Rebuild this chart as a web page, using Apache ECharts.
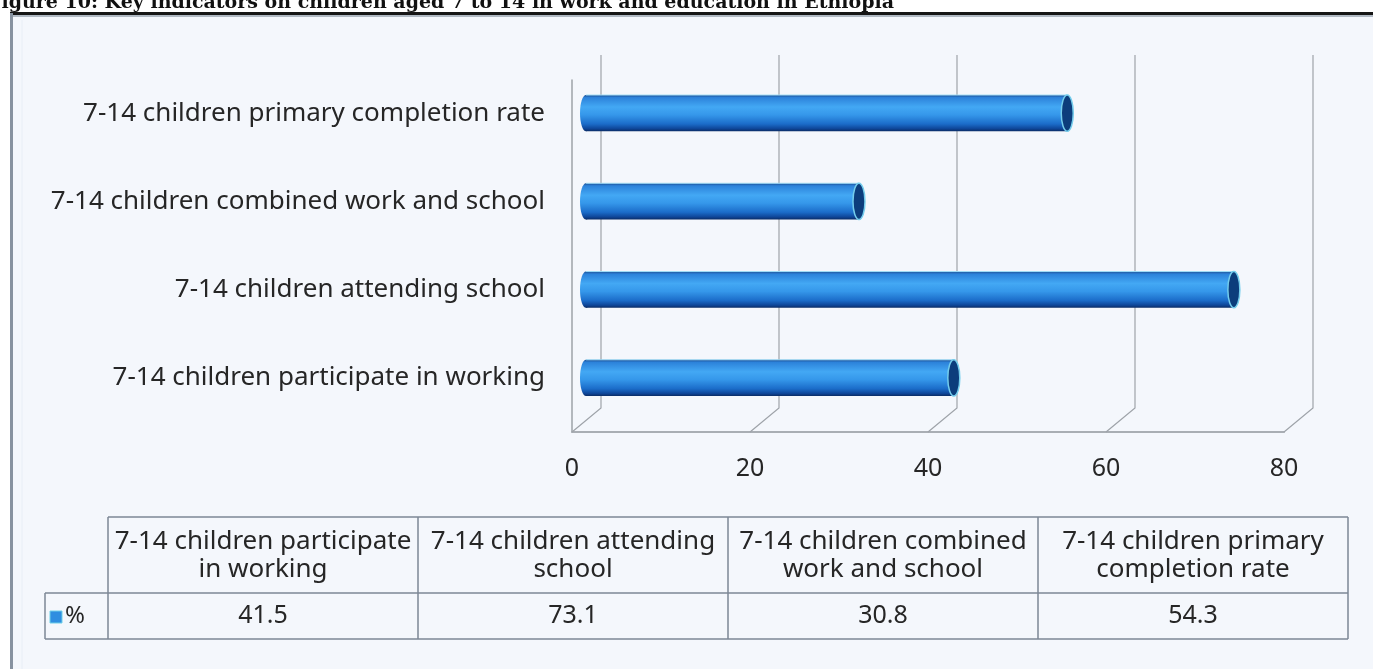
<!DOCTYPE html>
<html>
<head>
<meta charset="utf-8">
<script src="https://cdn.jsdelivr.net/npm/echarts@6/dist/echarts.min.js"></script>
<style>
html,body{margin:0;padding:0;background:#fff;}
#chart{width:1373px;height:669px;}
</style>
</head>
<body>
<div id="chart"></div>
<script>
// ---- data ----
const titleText = 'Figure 10: Key indicators on children aged 7 to 14 in work and education in Ethiopia';
const categories = [
  '7-14 children participate in working',
  '7-14 children attending school',
  '7-14 children combined work and school',
  '7-14 children primary completion rate'
];
const tableHeaders = [
  '7-14 children participate\nin working',
  '7-14 children attending\nschool',
  '7-14 children combined\nwork and school',
  '7-14 children primary\ncompletion rate'
];
const seriesName = '%';
const values = [41.5, 73.1, 30.8, 54.3];
const xTicks = [0, 20, 40, 60, 80];

// ---- styles ----
const FONT = '"Noto Sans", "Open Sans", sans-serif';
const TXT = '#262626';
const GRIDC = '#9ea3a9';

const barGrad = {
  type: 'linear', x: 0, y: 0, x2: 0, y2: 1,
  colorStops: [
    {offset: 0, color: '#1c4f94'},
    {offset: 0.07, color: '#2c82da'},
    {offset: 0.33, color: '#43a8f4'},
    {offset: 0.55, color: '#3597ea'},
    {offset: 0.8, color: '#1b6cc9'},
    {offset: 0.93, color: '#0e4699'},
    {offset: 1, color: '#0a2c66'}
  ]
};

const chart = echarts.init(document.getElementById('chart'));

// table graphic built from arrays
const tblLeft = 108, colW = 310, tblTop = 517, hdrH = 76, rowH = 46, legLeft = 45;
const tableEls = [];
const lineStyle = {stroke: '#7c8796', lineWidth: 1.5};
const tblRight = tblLeft + colW * tableHeaders.length;
tableEls.push({type: 'line', shape: {x1: tblLeft, y1: tblTop, x2: tblRight, y2: tblTop}, style: lineStyle});
tableEls.push({type: 'line', shape: {x1: legLeft, y1: tblTop + hdrH, x2: tblRight, y2: tblTop + hdrH}, style: lineStyle});
tableEls.push({type: 'line', shape: {x1: legLeft, y1: tblTop + hdrH + rowH, x2: tblRight, y2: tblTop + hdrH + rowH}, style: lineStyle});
tableEls.push({type: 'line', shape: {x1: legLeft, y1: tblTop + hdrH, x2: legLeft, y2: tblTop + hdrH + rowH}, style: lineStyle});
for (let i = 0; i <= tableHeaders.length; i++) {
  const x = tblLeft + colW * i;
  tableEls.push({type: 'line', shape: {x1: x, y1: tblTop, x2: x, y2: tblTop + hdrH + rowH}, style: lineStyle});
}
tableHeaders.forEach((h, i) => {
  tableEls.push({type: 'text', style: {
    text: h, x: tblLeft + colW * i + colW / 2, y: tblTop + hdrH / 2 + 1,
    align: 'center', verticalAlign: 'middle', fontSize: 26, fontFamily: FONT, fill: TXT, lineHeight: 28
  }});
  tableEls.push({type: 'text', style: {
    text: String(values[i]), x: tblLeft + colW * i + colW / 2, y: tblTop + hdrH + rowH / 2,
    align: 'center', verticalAlign: 'middle', fontSize: 25, fontFamily: FONT, fill: TXT
  }});
});
tableEls.push({type: 'rect', shape: {x: 50, y: 611, width: 12, height: 12}, style: {fill: '#2f8ee0', stroke: '#6fd0e8', lineWidth: 1}});
tableEls.push({type: 'text', style: {text: seriesName, x: 65, y: tblTop + hdrH + rowH / 2, align: 'left', verticalAlign: 'middle', fontSize: 24, fontFamily: FONT, fill: TXT}});

const option = {
  backgroundColor: '#ffffff',
  animation: false,
  graphic: [
    {type: 'rect', z: -100, shape: {x: 10, y: 12, width: 1400, height: 700}, style: {fill: '#f4f7fc'}},
    {type: 'line', z: -99, shape: {x1: 11, y1: 16, x2: 1373, y2: 16}, style: {stroke: '#9aa4b0', lineWidth: 1.5}},
    {type: 'line', z: -99, shape: {x1: 10, y1: 13.5, x2: 1373, y2: 13.5}, style: {stroke: '#161616', lineWidth: 3}},
    {type: 'line', z: -99, shape: {x1: 11.5, y1: 13, x2: 11.5, y2: 669}, style: {stroke: '#8792a0', lineWidth: 3}},
    {type: 'line', z: -99, shape: {x1: 22, y1: 20, x2: 22, y2: 669}, style: {stroke: '#e8eef6', lineWidth: 1}},
    {type: 'text', z: -98, style: {text: titleText, x: -12, y: 13, align: 'left', verticalAlign: 'bottom',
      font: 'bold 19px "DejaVu Serif", "Liberation Serif", serif', fill: '#111'}},
    {type: 'group', children: tableEls}
  ],
  grid: [
    {left: 586, width: 709, top: 69, height: 353},
    {left: 572, width: 712, top: 80, height: 352}
  ],
  xAxis: [
    {gridIndex: 0, type: 'value', min: 0, max: 80, interval: 20,
      axisLine: {show: false}, axisTick: {show: false}, axisLabel: {show: false}, splitLine: {show: false}},
    {gridIndex: 1, type: 'value', min: 0, max: 80, interval: 20,
      axisLine: {show: true, lineStyle: {color: '#a9aeb4', width: 2}}, axisTick: {show: false},
      axisLabel: {show: true, margin: 24, fontSize: 25, fontFamily: FONT, color: TXT}, splitLine: {show: false}}
  ],
  yAxis: [
    {gridIndex: 0, type: 'category', data: categories,
      axisLine: {show: false}, axisTick: {show: false},
      axisLabel: {show: true, margin: 41, fontSize: 26, fontFamily: FONT, color: TXT}},
    {gridIndex: 1, type: 'value', min: 0, max: 1,
      axisLine: {show: true, lineStyle: {color: GRIDC, width: 1.5}}, axisTick: {show: false},
      axisLabel: {show: false}, splitLine: {show: false}}
  ],
  series: [
    {
      type: 'custom', name: 'frame', xAxisIndex: 1, yAxisIndex: 1, silent: true, z: 1,
      data: xTicks.map(v => [v]),
      encode: {x: 0},
      renderItem: function (params, api) {
        const v = api.value(0);
        const p = api.coord([v, 0]);
        const top = api.coord([v, 1])[1] - 25;
        return {type: 'polyline', shape: {points: [[p[0], p[1]], [p[0] + 29, p[1] - 24], [p[0] + 29, top]]},
          style: {stroke: GRIDC, lineWidth: 1.2, fill: null}};
      }
    },
    {
      type: 'custom', name: seriesName, xAxisIndex: 0, yAxisIndex: 0, z: 3,
      data: values.map((v, i) => [v, i]),
      encode: {x: 0, y: 1},
      renderItem: function (params, api) {
        const v = api.value(0), c = api.value(1);
        const p0 = api.coord([0, c]);
        const p1 = api.coord([v, c]);
        const h = api.size([0, 1])[1] * 0.41;
        const rx = 6;
        return {type: 'group', children: [
          {type: 'ellipse', shape: {cx: p0[0], cy: p0[1], rx: rx, ry: h / 2}, style: {fill: barGrad}},
          {type: 'rect', shape: {x: p0[0], y: p0[1] - h / 2, width: p1[0] - p0[0], height: h}, style: {fill: barGrad}},
          {type: 'line', shape: {x1: p0[0], y1: p0[1] - h / 2, x2: p1[0], y2: p1[1] - h / 2}, style: {stroke: '#9fdcf6', lineWidth: 1}},
          {type: 'ellipse', shape: {cx: p1[0], cy: p1[1], rx: rx, ry: h / 2}, style: {fill: '#0c3d7c', stroke: '#74cdec', lineWidth: 1.5}}
        ]};
      }
    }
  ]
};
chart.setOption(option);
</script>
</body>
</html>
